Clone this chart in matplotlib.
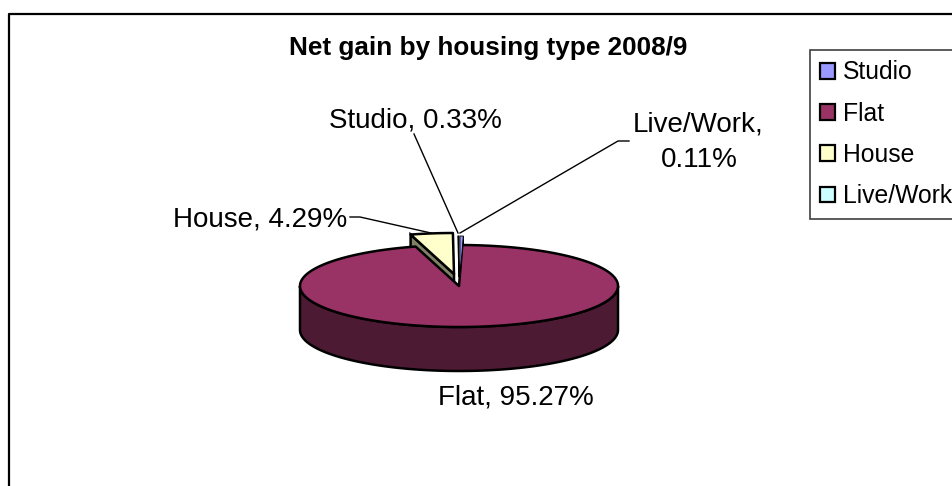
import numpy as np
import matplotlib
matplotlib.use("Agg")
import matplotlib.pyplot as plt
from matplotlib.patches import Patch

plt.rcParams['font.family'] = ['Liberation Sans', 'DejaVu Sans']

title = "Net gain by housing type 2008/9"
categories = ["Studio", "Flat", "House", "Live/Work"]
shares = [0.33, 95.27, 4.29, 0.11]
top_colors = ["#9999FF", "#993366", "#FFFFCC", "#CCFFFF"]
side_colors = ["#4C4C80", "#4D1A33", "#808066", "#668080"]
# exploded slices are shifted away from the pie centre, in pixels
offsets = [(1, -9), (0, 0), (-5, -12), (0, -9)]

cx, cy = 459, 286
rx, ry = 159, 41
depth = 44


def rim(t):
    return np.column_stack([rx * np.sin(t), -ry * np.cos(t)])


def slice_outline(start, end, off):
    t = np.linspace(start, end, max(3, int((end - start) * 60)))
    pts = np.vstack([[0, 0], rim(t), [0, 0]])
    return pts + [cx + off[0], cy + off[1]]


def side_face(edge_t, off):
    p = rim(np.array([edge_t]))[0] + [cx + off[0], cy + off[1]]
    a = np.array([cx + off[0], cy + off[1]])
    return np.array([a, p, p + [0, depth], a + [0, depth]])


fig = plt.figure(figsize=(9.53, 4.86), dpi=100)
ax = fig.add_axes([0, 0, 1, 1])
ax.set_xlim(0, 953)
ax.set_ylim(486, 0)
ax.axis("off")

edges = np.concatenate([[0], np.cumsum(shares)]) / sum(shares) * 2 * np.pi
lw = 1.8

# chart frame runs off the right and bottom of the picture
ax.plot([953, 9, 9], [14, 14, 486], color="black", lw=1.6, zorder=1)

# cut faces of the exploded slices sit behind the flat's top
house_i = categories.index("House")
studio_i = categories.index("Studio")
live_i = categories.index("Live/Work")
for i, edge_t in [(house_i, edges[house_i]), (studio_i, edges[studio_i + 1])]:
    ax.fill(*side_face(edge_t, offsets[i]).T, facecolor=side_colors[i],
            edgecolor="black", lw=lw if i == house_i else 1, zorder=2)

# flat: wall along the front half, then the top
flat_i = categories.index("Flat")
t = np.linspace(np.pi / 2, 3 * np.pi / 2, 120)
front = rim(t) + [cx, cy]
wall = np.vstack([front, front[::-1] + [0, depth]])
ax.fill(*wall.T, facecolor=side_colors[flat_i], edgecolor="black", lw=lw, zorder=3)
ax.fill(*slice_outline(edges[flat_i], edges[flat_i + 1], offsets[flat_i]).T,
        facecolor=top_colors[flat_i], edgecolor="black", lw=lw, joinstyle="round", zorder=4)

# tops of the exploded slices, thin ones need a thin edge to show their colour
for i, edge_w in [(house_i, lw), (live_i, 0.8), (studio_i, 0.6)]:
    ax.fill(*slice_outline(edges[i], edges[i + 1], offsets[i]).T,
            facecolor=top_colors[i], edgecolor="black", lw=edge_w, joinstyle="round", zorder=5)

# data labels and leader lines
label_size = 20
ax.text(415, 120, "Studio, 0.33%", fontsize=label_size, ha="center", va="center")
ax.text(698, 124.5, "Live/Work,", fontsize=label_size, ha="center", va="center")
ax.text(699, 160, "0.11%", fontsize=label_size, ha="center", va="center")
ax.text(260.5, 219, "House, 4.29%", fontsize=label_size, ha="center", va="center")
ax.text(515.5, 397, "Flat, 95.27%", fontsize=label_size, ha="center", va="center")
ax.plot([414, 458], [134, 233], color="black", lw=1, zorder=6)
ax.plot([629, 618, 460], [141, 141, 233], color="black", lw=1, zorder=6)
ax.plot([350, 360, 431], [217, 217, 233], color="black", lw=1, zorder=6)

ax.text(488.5, 47.5, title, fontsize=18.8, fontweight="bold", ha="center", va="center")

handles = [Patch(facecolor=c, edgecolor="black", lw=1.6) for c in top_colors]
leg = ax.legend(handles, categories, loc="upper left", bbox_to_anchor=(810, 50),
                bbox_transform=ax.transData, fontsize=17.8, frameon=True, fancybox=False,
                edgecolor="#404040", framealpha=1, borderpad=0.42, labelspacing=0.7,
                handlelength=0.6, handleheight=0.6, handletextpad=0.3, borderaxespad=0)
leg.get_frame().set_linewidth(1.2)
leg.set_zorder(7)

fig.savefig("out.png", dpi=100)
